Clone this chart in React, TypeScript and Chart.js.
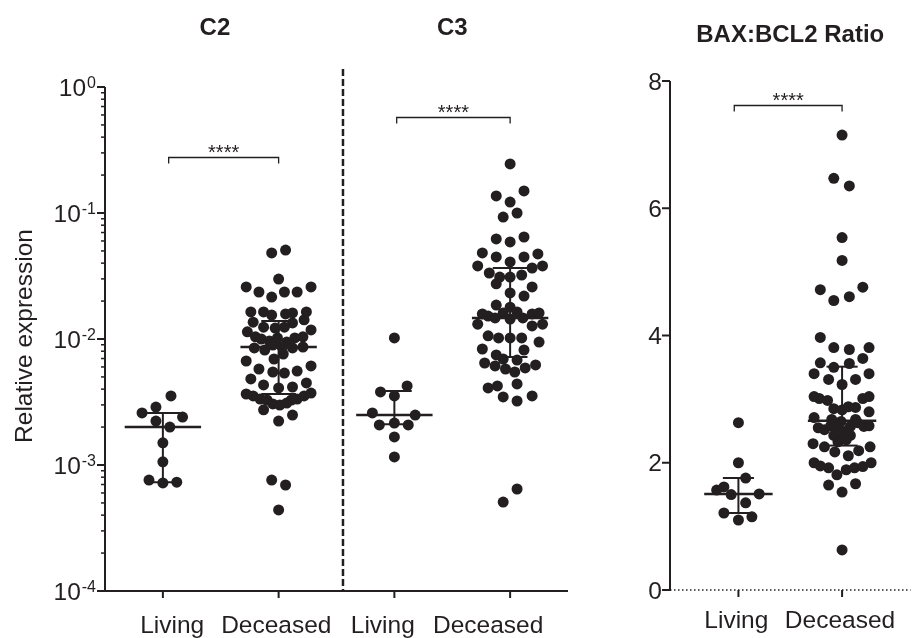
import React, { useEffect, useRef } from "react";
import { Chart, registerables } from "chart.js";

Chart.register(...registerables);

const FONT = '"Liberation Sans", Arial, Helvetica, sans-serif';
const INK = "#231f20";

// ---------- Left panel (log scale): C2 and C3 ----------
const leftCategories = ["Living", "Deceased", "Living", "Deceased"];
const panelTitles = ["C2", "C3"];
const yAxisTitle = "Relative expression";
const logTickExponents = [0, -1, -2, -3, -4];
const significance = "****";

const c2LivingValues = [0.00353, 0.00288, 0.00259, 0.0024, 0.00223, 0.002, 0.0015, 0.00106, 0.00076, 0.00072, 0.00073];
const c2LivingJitter = [0.07, -0.06, -0.18, 0.17, -0.06, 0.06, 0, 0, -0.12, 0, 0.12];

const c2DeceasedValues = [
  0.0482, 0.0508, 0.0299, 0.0259, 0.0236, 0.0215, 0.0236, 0.0236, 0.0259, 0.0164,
  0.0164, 0.0155, 0.0158, 0.0161, 0.0164, 0.0136, 0.0124, 0.0122, 0.0124, 0.0134,
  0.0142, 0.0114, 0.0104, 0.01, 0.00964, 0.0102, 0.00946, 0.0102, 0.0104, 0.0118,
  0.00849, 0.00818, 0.00896, 0.00864, 0.00849, 0.00864, 0.00669, 0.00694, 0.0076, 0.00578,
  0.00547, 0.00537, 0.00557, 0.00611, 0.00482, 0.00432, 0.00409, 0.00416, 0.00448, 0.00366,
  0.00353, 0.00334, 0.00328, 0.00305, 0.00299, 0.0031, 0.00328, 0.00334, 0.00353, 0.00372,
  0.00274, 0.00249, 0.00223, 0.00076, 0.000694, 0.00044,
];
const c2DeceasedJitter = [
  -0.06, 0.06, 0, -0.28, -0.17, -0.06, 0.05, 0.16, 0.28, -0.24,
  -0.13, -0.06, 0.06, 0.12, 0.24, -0.22, -0.13, -0.03, 0.05, 0.12,
  0.22, -0.27, -0.2, -0.15, -0.08, -0.01, 0.07, 0.14, 0.21, 0.28,
  -0.21, -0.12, -0.05, 0.03, 0.12, 0.21, -0.28, -0.04, 0.04, -0.17,
  -0.05, 0.05, 0.16, 0.28, -0.24, -0.13, 0, 0.12, 0.24, -0.28,
  -0.22, -0.16, -0.1, -0.05, 0.01, 0.07, 0.11, 0.16, 0.22, 0.28,
  -0.13, 0.12, 0, -0.06, 0.06, 0,
];

const c3LivingValues = [0.0102, 0.0038, 0.00424, 0.00353, 0.00259, 0.00249, 0.00208, 0.00215, 0.00208, 0.00167, 0.00116];
const c3LivingJitter = [0, -0.12, 0.11, 0, -0.19, 0.18, -0.13, 0, 0.12, 0, 0];

const c3DeceasedValues = [
  0.245, 0.1365, 0.1496, 0.122, 0.0929, 0.1, 0.0622, 0.0589, 0.0645, 0.0482,
  0.0448, 0.0409, 0.0448, 0.0473, 0.038, 0.0334, 0.031, 0.031, 0.0322, 0.0366,
  0.038, 0.0274, 0.0232, 0.0219, 0.0259, 0.0186, 0.0179, 0.0158, 0.0152, 0.0147,
  0.0161, 0.0144, 0.0164, 0.0147, 0.0158, 0.0161, 0.0131, 0.0127, 0.0131, 0.0106,
  0.0102, 0.0102, 0.0102, 0.00946, 0.00833, 0.00818, 0.00747, 0.00694, 0.00681, 0.00645,
  0.00611, 0.00578, 0.00547, 0.00589, 0.00622, 0.00409, 0.00424, 0.0044, 0.00347, 0.00322,
  0.00353, 0.000645, 0.000508,
];
const c3DeceasedJitter = [
  0, -0.12, 0.12, 0, -0.06, 0.06, -0.12, 0, 0.12, -0.24,
  -0.12, 0, 0.12, 0.24, -0.28, -0.18, -0.09, 0, 0.1, 0.19,
  0.28, -0.12, 0, 0.12, 0.19, -0.12, 0, -0.24, -0.19, -0.13,
  -0.06, 0, 0.06, 0.11, 0.19, 0.25, -0.28, 0.19, 0.28, -0.19,
  -0.1, 0, 0.1, 0.25, -0.24, 0.12, -0.12, -0.06, 0.06, -0.22,
  -0.13, -0.04, 0.04, 0.13, 0.22, -0.19, -0.11, 0.06, -0.06, 0.06,
  0.19, 0.06, -0.06,
];

// median and interquartile range for each left group
const leftMedians = [0.002, 0.00865, 0.00249, 0.0147];
const leftQ1 = [0.00073, 0.00366, 0.00211, 0.0072];
const leftQ3 = [0.00259, 0.0139, 0.00386, 0.0366];

// significance brackets: [from category, to category, level]
const leftBrackets = [
  [0.05, 1.0, 0.278],
  [2.02, 3.0, 0.578],
];
const separatorX = 1.556;
const separatorTop = 1.39;

// ---------- Right panel (linear): BAX:BCL2 ratio ----------
const rightCategories = ["Living", "Deceased"];
const rightTitle = "BAX:BCL2 Ratio";
const ratioTicks = [0, 2, 4, 6, 8];

const ratioLivingValues = [2.63, 2.0, 1.76, 1.57, 1.62, 1.5, 1.51, 1.37, 1.21, 1.1, 1.15];
const ratioLivingJitter = [0, 0, 0.07, -0.21, -0.14, -0.07, 0.2, 0.07, -0.14, 0, 0.13];

const ratioDeceasedValues = [
  7.15, 6.47, 6.35, 5.54, 5.18, 4.72, 4.55, 4.61, 4.76,
  3.97, 3.81, 3.78, 3.81, 3.64, 3.57, 3.5, 3.56, 3.4, 3.31, 3.23, 3.31, 3.4,
  3.04, 3.01, 2.98, 2.85, 2.83, 2.88, 2.87, 3.01, 3.04, 2.8,
  2.71, 2.68, 2.65, 2.68, 2.55, 2.52, 2.58, 2.55, 2.49, 2.57, 2.63, 2.57, 2.58, 2.43, 2.39, 2.43, 2.33, 2.36,
  2.3, 2.25, 2.17, 2.11, 2.19, 2.25,
  2.0, 1.95, 1.92, 1.81, 1.89, 1.92, 1.94, 2.0,
  1.65, 1.54, 1.67, 0.63,
];
const ratioDeceasedJitter = [
  0, -0.08, 0.07, 0, 0, -0.21, -0.08, 0.07, 0.2,
  -0.21, -0.08, 0.07, 0.26, 0.2, -0.21, -0.08, 0.07, -0.27, -0.13, 0, 0.13, 0.26,
  -0.27, -0.22, -0.14, -0.08, 0, 0.06, 0.13, 0.2, 0.26, 0.26,
  -0.27, -0.1, -0.01, 0.13, -0.23, -0.17, -0.11, -0.04, 0.02, 0.08, 0.15, 0.21, 0.26, -0.08, 0, 0.08, -0.04, 0.04,
  -0.28, -0.17, -0.07, 0.06, 0.16, 0.27,
  -0.27, -0.21, -0.13, -0.05, 0.04, 0.12, 0.2, 0.28,
  -0.13, 0, 0.13, 0,
];

const rightMedians = [1.51, 2.66];
const rightQ1 = [1.21, 2.27];
const rightQ3 = [1.76, 3.51];
const rightBracket = [-0.04, 1.0, 7.62];

// ---------- helpers ----------
function seg(ctx: CanvasRenderingContext2D, x1: number, y1: number, x2: number, y2: number) {
  ctx.beginPath();
  ctx.moveTo(x1, y1);
  ctx.lineTo(x2, y2);
  ctx.stroke();
}

function drawSummary(ctx: CanvasRenderingContext2D, x: any, y: any, c: number, med: number, q1: number, q3: number) {
  const xm = x.getPixelForValue(c);
  const xl = x.getPixelForValue(c - 0.33);
  const xr = x.getPixelForValue(c + 0.33);
  const cl = x.getPixelForValue(c - 0.15);
  const cr = x.getPixelForValue(c + 0.15);
  const ym = y.getPixelForValue(med);
  const y1 = y.getPixelForValue(q1);
  const y3 = y.getPixelForValue(q3);
  ctx.lineWidth = 2;
  seg(ctx, xm, y1, xm, y3);
  seg(ctx, cl, y1, cr, y1);
  seg(ctx, cl, y3, cr, y3);
  ctx.lineWidth = 2.5;
  seg(ctx, xl, ym, xr, ym);
}

function drawBracket(ctx: CanvasRenderingContext2D, x: any, y: any, b: number[]) {
  const x1 = x.getPixelForValue(b[0]);
  const x2 = x.getPixelForValue(b[1]);
  const py = Math.round(y.getPixelForValue(b[2])) + 0.5;
  ctx.lineWidth = 1.3;
  ctx.beginPath();
  ctx.moveTo(x1, py + 6);
  ctx.lineTo(x1, py);
  ctx.lineTo(x2, py);
  ctx.lineTo(x2, py + 6);
  ctx.stroke();
  ctx.font = `20px ${FONT}`;
  ctx.textAlign = "center";
  ctx.textBaseline = "alphabetic";
  ctx.fillText(significance, (x1 + x2) / 2, py + 1);
}

const leftDecor = {
  id: "leftDecor",
  afterDraw(chart: any) {
    const { ctx, chartArea: a } = chart;
    const x = chart.scales.x;
    const y = chart.scales.y;
    ctx.save();
    ctx.strokeStyle = INK;
    ctx.fillStyle = INK;
    ctx.lineCap = "butt";

    // axis lines
    ctx.lineWidth = 2;
    seg(ctx, a.left, a.top, a.left, a.bottom + 1);
    seg(ctx, a.left - 1, a.bottom, a.right, a.bottom);

    // y ticks (major + minor) and labels
    logTickExponents.forEach((e) => {
      const v = Math.pow(10, e);
      const py = y.getPixelForValue(v);
      ctx.lineWidth = 2;
      seg(ctx, a.left - 8, py, a.left, py);
      if (e > -4) {
        ctx.lineWidth = 1.5;
        for (let m = 2; m <= 9; m++) {
          const pm = y.getPixelForValue(m * Math.pow(10, e - 1));
          seg(ctx, a.left - 4, pm, a.left, pm);
        }
      }
      const sup = String(e);
      ctx.textAlign = "right";
      ctx.textBaseline = "alphabetic";
      ctx.font = `16px ${FONT}`;
      const sw = ctx.measureText(sup).width;
      const rx = a.left - 9;
      ctx.fillText(sup, rx, py + 1);
      ctx.font = `24.5px ${FONT}`;
      ctx.fillText("10", rx - sw - 1, py + 8.5);
    });

    // x ticks and labels
    const labelShift = [0.08, -0.02, -0.1, -0.19];
    leftCategories.forEach((lab, i) => {
      const px = x.getPixelForValue(i);
      ctx.lineWidth = 2;
      seg(ctx, px, a.bottom, px, a.bottom + 7);
      ctx.font = `24.5px ${FONT}`;
      ctx.textAlign = "center";
      ctx.textBaseline = "alphabetic";
      ctx.fillText(lab, x.getPixelForValue(i + labelShift[i]), a.bottom + 42);
    });

    // separator
    ctx.lineWidth = 2.5;
    ctx.setLineDash([7, 3]);
    const sx = x.getPixelForValue(separatorX);
    seg(ctx, sx, y.getPixelForValue(separatorTop), sx, a.bottom);
    ctx.setLineDash([]);

    // titles
    ctx.font = `bold 24px ${FONT}`;
    ctx.textAlign = "center";
    ctx.textBaseline = "alphabetic";
    ctx.fillText(panelTitles[0], x.getPixelForValue(0.45), 35);
    ctx.fillText(panelTitles[1], x.getPixelForValue(2.5), 35);

    // y axis title
    ctx.save();
    ctx.translate(32, 336);
    ctx.rotate(-Math.PI / 2);
    ctx.font = `24.5px ${FONT}`;
    ctx.textAlign = "center";
    ctx.textBaseline = "alphabetic";
    ctx.fillText(yAxisTitle, 0, 0);
    ctx.restore();

    // medians / IQR
    leftMedians.forEach((m, i) => drawSummary(ctx, x, y, i, m, leftQ1[i], leftQ3[i]));

    // brackets
    leftBrackets.forEach((b) => drawBracket(ctx, x, y, b));
    ctx.restore();
  },
};

const rightDecor = {
  id: "rightDecor",
  afterDraw(chart: any) {
    const { ctx, chartArea: a } = chart;
    const x = chart.scales.x;
    const y = chart.scales.y;
    ctx.save();
    ctx.strokeStyle = INK;
    ctx.fillStyle = INK;

    // y axis line
    ctx.lineWidth = 2;
    seg(ctx, a.left, a.top, a.left, a.bottom + 1);
    // dotted x axis
    ctx.lineWidth = 1.5;
    ctx.setLineDash([1.5, 2.5]);
    seg(ctx, a.left, a.bottom, a.right, a.bottom);
    ctx.setLineDash([]);

    // y ticks and labels
    ratioTicks.forEach((t) => {
      const py = y.getPixelForValue(t);
      ctx.lineWidth = 2;
      seg(ctx, a.left - 8, py, a.left, py);
      ctx.font = `24.5px ${FONT}`;
      ctx.textAlign = "right";
      ctx.textBaseline = "alphabetic";
      ctx.fillText(String(t), a.left - 8, py + 8.5);
    });

    // x ticks and labels
    rightCategories.forEach((lab, i) => {
      const px = x.getPixelForValue(i);
      ctx.lineWidth = 2;
      seg(ctx, px, a.bottom, px, a.bottom + 7);
      ctx.font = `24.5px ${FONT}`;
      ctx.textAlign = "center";
      ctx.textBaseline = "alphabetic";
      ctx.fillText(lab, x.getPixelForValue(i - 0.02), a.bottom + 38);
    });

    // title
    ctx.font = `bold 24px ${FONT}`;
    ctx.textAlign = "center";
    ctx.fillText(rightTitle, x.getPixelForValue(0.5), 42);

    rightMedians.forEach((m, i) => drawSummary(ctx, x, y, i, m, rightQ1[i], rightQ3[i]));
    drawBracket(ctx, x, y, rightBracket);
    ctx.restore();
  },
};

function dots(values: number[], jitter: number[], centre: number) {
  return {
    data: values.map((v, k) => ({ x: centre + jitter[k], y: v })),
    backgroundColor: INK,
    borderWidth: 0,
    pointRadius: 5.5,
    pointHoverRadius: 5.5,
  };
}

export default function App() {
  const leftRef = useRef<HTMLCanvasElement>(null);
  const rightRef = useRef<HTMLCanvasElement>(null);

  useEffect(() => {
    const common: any = {
      responsive: false,
      animation: false,
      devicePixelRatio: 1,
      events: [],
      plugins: { legend: { display: false }, tooltip: { enabled: false }, title: { display: false } },
    };

    const left = new Chart(leftRef.current!, {
      type: "scatter",
      data: {
        datasets: [
          dots(c2LivingValues, c2LivingJitter, 0),
          dots(c2DeceasedValues, c2DeceasedJitter, 1),
          dots(c3LivingValues, c3LivingJitter, 2),
          dots(c3DeceasedValues, c3DeceasedJitter, 3),
        ],
      },
      options: {
        ...common,
        layout: { padding: { left: 0, top: 87, right: 32, bottom: 0 } },
        scales: {
          x: {
            type: "linear",
            min: -0.5,
            max: 3.5,
            grid: { display: false },
            ticks: { display: false },
            border: { display: false },
            afterFit: (s: any) => {
              s.height = 47;
            },
          },
          y: {
            type: "logarithmic",
            min: 1e-4,
            max: 1,
            grid: { display: false },
            ticks: { display: false },
            border: { display: false },
            afterFit: (s: any) => {
              s.width = 105;
            },
          },
        },
      },
      plugins: [leftDecor],
    } as any);

    const right = new Chart(rightRef.current!, {
      type: "scatter",
      data: {
        datasets: [
          dots(ratioLivingValues, ratioLivingJitter, 0),
          dots(ratioDeceasedValues, ratioDeceasedJitter, 1),
        ],
      },
      options: {
        ...common,
        layout: { padding: { left: 0, top: 81, right: 0, bottom: 0 } },
        scales: {
          x: {
            type: "linear",
            min: -0.66,
            max: 1.66,
            grid: { display: false },
            ticks: { display: false },
            border: { display: false },
            afterFit: (s: any) => {
              s.height = 48;
            },
          },
          y: {
            type: "linear",
            min: 0,
            max: 8,
            grid: { display: false },
            ticks: { display: false },
            border: { display: false },
            afterFit: (s: any) => {
              s.width = 70;
            },
          },
        },
      },
      plugins: [rightDecor],
    } as any);

    return () => {
      left.destroy();
      right.destroy();
    };
  }, []);

  return (
    <div style={{ position: "absolute", left: 0, top: 0, width: 916, height: 638, background: "#fff" }}>
      <canvas ref={leftRef} width={600} height={638} style={{ position: "absolute", left: 0, top: 0 }} />
      <canvas ref={rightRef} width={316} height={638} style={{ position: "absolute", left: 600, top: 0 }} />
    </div>
  );
}
